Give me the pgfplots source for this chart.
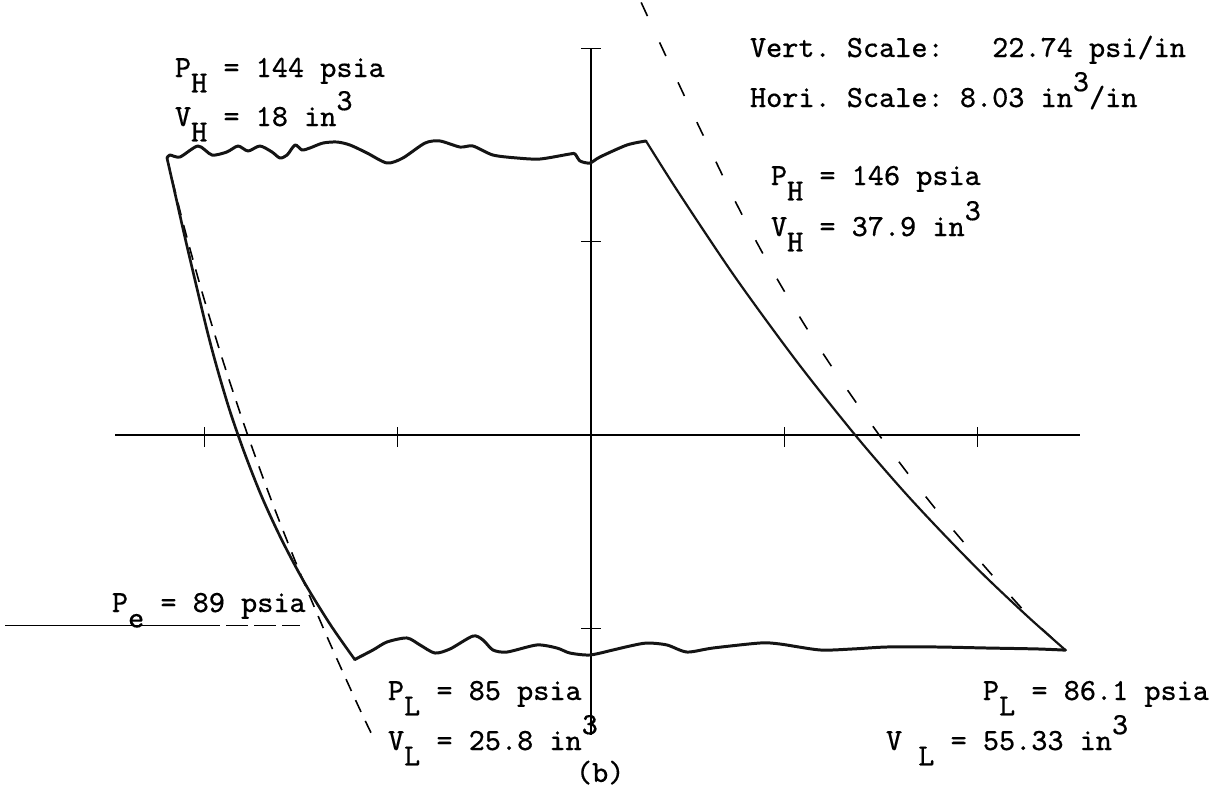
\documentclass[border=0pt]{standalone}
\usepackage{fontspec}
\newfontfamily\tw{Latin Modern Mono}[FakeBold=0.3]
\usepackage{pgfplots}
\pgfplotsset{compat=1.18}

% typewriter-style labels: subscripts and superscripts are full-size, shifted half a line
\newcommand{\lo}[1]{\raisebox{-4.4pt}{#1}}
\newcommand{\hi}[1]{\raisebox{4.5pt}{#1}}

\begin{document}
\begin{tikzpicture}
\begin{axis}[
  at={(0,0)}, anchor=south west,
  width=121.4mm, height=78.7mm, scale only axis,
  xmin=11.062, xmax=61.498, ymin=70.0, ymax=162.588,
  hide axis, clip=false,
  ax/.style={black, line width=0.38pt},
  trace/.style={black!92, line width=0.85pt, line join=round, line cap=round},
]
% reference axes (1 in = 8.03 in^3 horizontally, 22.74 psi vertically)
\addplot[ax] coordinates {(15.84,111.41) (55.93,111.41)};
\addplot[ax] coordinates {(35.615,156.89) (35.615,76.1)};
\addplot[ax] coordinates {(35.19,156.89) (36.04,156.89)};
\addplot[ax] coordinates {(35.21,134.15) (36.02,134.15)};
\addplot[ax] coordinates {(35.21,88.67) (36.02,88.67)};
\addplot[ax] coordinates {(19.555,112.35) (19.555,110.0)};
\addplot[ax] coordinates {(27.585,112.35) (27.585,110.0)};
\addplot[ax] coordinates {(43.645,112.35) (43.645,110.0)};
\addplot[ax] coordinates {(51.675,112.35) (51.675,110.0)};

% exhaust pressure line
\addplot[ax] coordinates {(11.27,89) (19.3,89)};
\addplot[ax, dash pattern=on 2.2mm off 0.6mm] coordinates {(19.3,89) (23.53,89)};

% ideal expansion / compression lines
\addplot[black, line width=0.45pt, dash pattern=on 1.5mm off 2.9mm, smooth] coordinates {
(37.70,162.3) (39.38,152) (40.56,145) (41.77,138) (43.10,131) (44.57,124)
(46.20,117) (47.95,110) (49.85,103) (51.95,96) (53.85,90) (55.33,86.1)};
\addplot[black, line width=0.45pt, dash pattern=on 1.3mm off 1.0mm, smooth] coordinates {
(18.00,144) (18.70,136) (19.48,128) (20.34,120) (21.28,112) (22.30,104)
(23.41,96) (24.60,88) (25.87,80) (26.54,76)};

% measured cycle: high-pressure intake
\addplot[trace, smooth, tension=0.45] coordinates {
(18.00,144.00) (18.12,144.35) (18.54,144.12) (19.29,145.41) (19.87,144.35)
(20.49,144.71) (20.95,145.41) (21.37,144.82) (21.86,145.41) (22.36,144.71)
(22.69,144.00) (22.99,144.35) (23.32,145.53) (23.61,144.94) (23.94,145.18)
(24.48,145.76) (25.06,145.88) (25.60,145.53) (26.31,144.59) (27.14,143.41)
(27.80,144.00) (28.72,145.76) (29.34,146.00) (30.17,145.29) (30.71,145.41)
(31.54,144.35) (32.54,144.00) (33.50,143.88) (34.74,144.47) (34.95,144.47)
(35.16,143.65) (35.57,143.41) (35.99,144.12) (37.11,145.53) (37.90,146.00)};
% expansion
\addplot[trace, line width=0.62pt, smooth] coordinates {
(37.90,146.00) (39.24,140) (41.60,130) (44.18,120) (46.59,111.41)
(48.54,105) (50.18,100) (51.91,95) (53.78,90) (55.33,86.1)};
% low-pressure exhaust
\addplot[trace, smooth, tension=0.45] coordinates {
(25.80,85.00) (26.56,86.12) (27.14,87.06) (27.97,87.53) (28.51,86.71)
(29.13,85.76) (29.76,86.24) (30.71,87.76) (31.13,87.29) (31.54,86.12)
(32.13,85.88) (33.37,86.71) (34.20,86.35) (34.74,85.76) (35.57,85.53)
(36.53,86.12) (37.24,86.59) (37.94,86.94) (38.77,86.71) (39.60,85.88)
(40.68,86.35) (42.64,86.94) (43.47,86.82) (45.13,86.12) (46.50,86.24)
(47.91,86.47) (49.99,86.47) (52.07,86.35) (54.15,86.24) (55.33,86.10)};
% compression
\addplot[trace, line width=0.75pt, smooth] coordinates {
(18.00,144) (18.40,139) (18.80,134) (19.64,124) (20.11,119) (20.64,114)
(21.26,109) (21.96,104) (22.78,99) (23.72,94) (24.81,89) (25.80,85)};
\end{axis}

% annotations, placed on a 0.1 mm grid measured from the top-left corner
\begin{scope}[x=0.1mm, y=-0.1mm, yshift=78.7mm,
  every node/.style={anchor=base west, inner sep=0pt, outer sep=0pt,
    font=\tw\fontsize{8.75}{10}\selectfont}]
\frenchspacing
\node at (175,77)  {P\lo{H} = 144 psia};
\node at (175,126) {V\lo{H} = 18 in\hi{3}};
\node at (750,57)  {Vert.\ Scale:\ \ \ 22.74 psi/in};
\node at (750,107) {Hori.\ Scale: 8.03 in\hi{3}/in};
\node at (771,185) {P\lo{H} = 146 psia};
\node at (771,236) {V\lo{H} = 37.9 in\hi{3}};
\node at (112,612) {P\lo{e} = 89 psia};
\node at (388,700) {P\lo{L} = 85 psia};
\node at (388,750) {V\lo{L} = 25.8 in\hi{3}};
\node at (983,700) {P\lo{L} = 86.1 psia};
\node at (886,750) {V \lo{L} = 55.33 in\hi{3}};
\node at (576,782) {(b)};
\end{scope}
\pgfresetboundingbox
\path (0,0) rectangle (121.4mm,78.7mm);
\end{tikzpicture}
\end{document}
